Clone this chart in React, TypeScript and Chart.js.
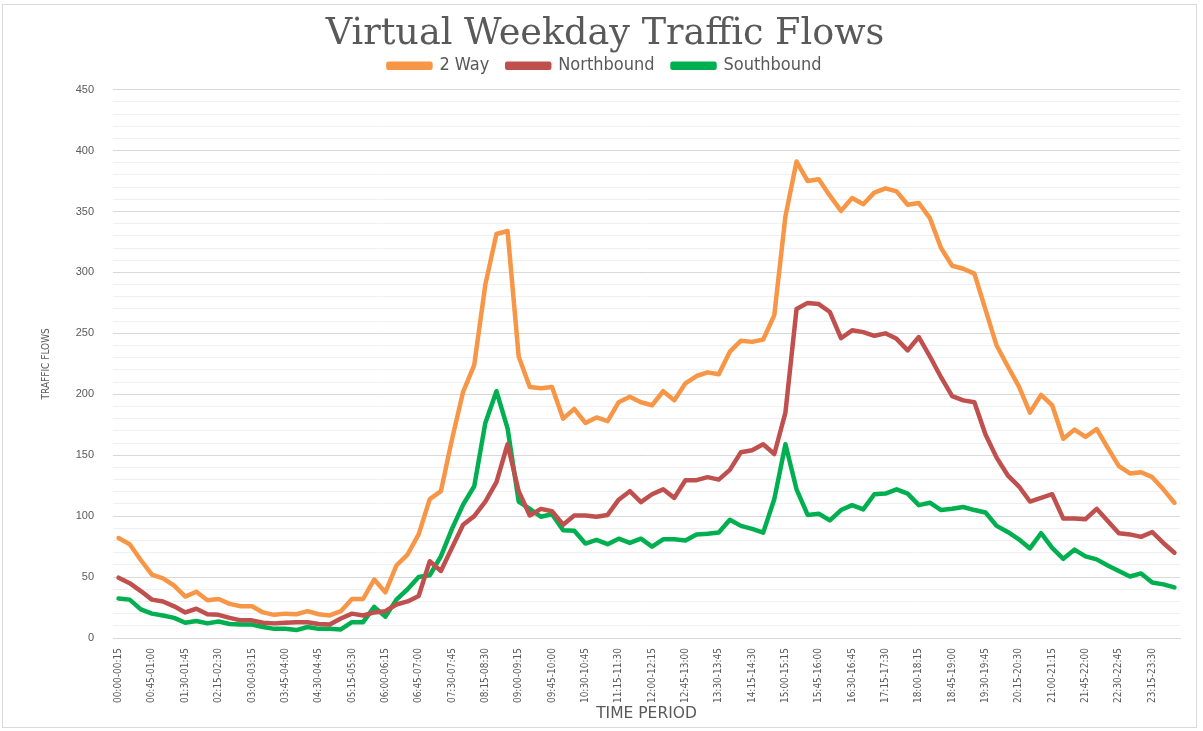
import React, { useEffect, useRef } from "react";
import { Chart, registerables, layouts } from "chart.js";

Chart.register(...registerables);

const timeLabels: string[] = [
  "00:00-00:15", "00:15-00:30", "00:30-00:45", "00:45-01:00",
  "01:00-01:15", "01:15-01:30", "01:30-01:45", "01:45-02:00",
  "02:00-02:15", "02:15-02:30", "02:30-02:45", "02:45-03:00",
  "03:00-03:15", "03:15-03:30", "03:30-03:45", "03:45-04:00",
  "04:00-04:15", "04:15-04:30", "04:30-04:45", "04:45-05:00",
  "05:00-05:15", "05:15-05:30", "05:30-05:45", "05:45-06:00",
  "06:00-06:15", "06:15-06:30", "06:30-06:45", "06:45-07:00",
  "07:00-07:15", "07:15-07:30", "07:30-07:45", "07:45-08:00",
  "08:00-08:15", "08:15-08:30", "08:30-08:45", "08:45-09:00",
  "09:00-09:15", "09:15-09:30", "09:30-09:45", "09:45-10:00",
  "10:00-10:15", "10:15-10:30", "10:30-10:45", "10:45-11:00",
  "11:00-11:15", "11:15-11:30", "11:30-11:45", "11:45-12:00",
  "12:00-12:15", "12:15-12:30", "12:30-12:45", "12:45-13:00",
  "13:00-13:15", "13:15-13:30", "13:30-13:45", "13:45-14:00",
  "14:00-14:15", "14:15-14:30", "14:30-14:45", "14:45-15:00",
  "15:00-15:15", "15:15-15:30", "15:30-15:45", "15:45-16:00",
  "16:00-16:15", "16:15-16:30", "16:30-16:45", "16:45-17:00",
  "17:00-17:15", "17:15-17:30", "17:30-17:45", "17:45-18:00",
  "18:00-18:15", "18:15-18:30", "18:30-18:45", "18:45-19:00",
  "19:00-19:15", "19:15-19:30", "19:30-19:45", "19:45-20:00",
  "20:00-20:15", "20:15-20:30", "20:30-20:45", "20:45-21:00",
  "21:00-21:15", "21:15-21:30", "21:30-21:45", "21:45-22:00",
  "22:00-22:15", "22:15-22:30", "22:30-22:45", "22:45-23:00",
  "23:00-23:15", "23:15-23:30", "23:30-23:45", "23:45-24:00",
];

const twoWay: number[] = [
  82, 77, 64, 52, 49, 43, 34, 38, 31, 32, 28, 26,
  26, 21, 19, 20, 19.5, 22, 19.5, 18.5, 22, 32, 32, 48,
  37.5, 59.5, 68.5, 85, 114, 120.5, 163, 202, 224, 290, 331.5, 334,
  231, 206, 205, 206, 180, 188, 176.5, 181, 178, 193.5, 198, 193.5,
  191, 202.5, 195, 209, 215, 218, 216.5, 235, 244, 243, 245, 265,
  346, 391, 375, 376.5, 363, 350.5, 361, 356, 365.5, 369, 366.5, 355.5,
  357, 344.5, 320, 305.5, 303, 299, 269.5, 240, 223, 206.5, 185, 199.5,
  191, 163.5, 171, 165, 171.5, 156, 141, 135, 136, 132, 122, 111,
];

const northbound: number[] = [
  49.5, 45, 38.5, 31.5, 30, 26, 21, 24, 19.5, 19, 16.5, 14.5,
  14.5, 12.5, 12, 12.5, 13, 13, 11.5, 11, 16, 20, 18.5, 21,
  22, 27.5, 30, 34.5, 63, 55, 74, 93, 100, 112, 128, 159,
  120.5, 100.5, 106, 104, 93, 100.5, 100.5, 99.5, 101, 113.5, 120.5, 111.5,
  118, 122, 115, 129.5, 129.5, 132, 130, 138, 152.5, 154, 159, 151,
  185, 270, 275, 274, 267.5, 246, 252.5, 251, 248, 250, 245.5, 236,
  247, 231, 214, 198.5, 195, 193.5, 167, 148, 133.5, 124.5, 112, 115,
  118, 98, 98, 97.5, 106, 96, 86, 85, 83, 87, 78, 70,
];

const southbound: number[] = [
  32.5, 31.5, 23.5, 20, 18.5, 16.5, 12.5, 14, 12, 13.5, 11.5, 11,
  11, 9, 7.5, 7.5, 6.5, 9, 7.5, 7.5, 7, 13, 13, 25.5,
  17.5, 31.5, 40, 50, 51.5, 67, 89.5, 109.5, 124.5, 176.5, 202.5, 172,
  112, 106, 99.5, 101.5, 88.5, 88, 77.5, 80.5, 77, 81.5, 78, 81.5,
  75, 81, 81, 80, 85, 85.5, 86.5, 97, 92, 89.5, 86.5, 114,
  159, 122, 101, 102, 96.5, 105, 109, 105.5, 118, 118.5, 122, 118.5,
  109, 111, 105, 106, 107.5, 105, 103, 92, 87, 81, 73.5, 86,
  74, 65, 72.5, 67, 64.5, 59.5, 55, 50.5, 53, 45.5, 44, 41.5,
];

const seriesNames = ["2 Way", "Northbound", "Southbound"];
const seriesColors = ["#F79646", "#C0504D", "#00B050"];

const TEXT = "#595959";
const NARROW = "'DejaVu Sans Condensed', 'Liberation Sans', sans-serif";

// Small empty layout box placed between the legend and the plot area.
const spacerPlugin = {
  id: "legendSpacer",
  beforeInit(chart: any) {
    const box: any = {
      position: "top",
      weight: 500,
      fullSize: true,
      options: {},
      top: 0,
      left: 0,
      bottom: 0,
      right: 0,
      width: 0,
      height: 0,
      update(maxWidth: number) {
        this.width = maxWidth;
        this.height = 5;
      },
      isHorizontal() {
        return true;
      },
      getPadding() {
        return { left: 0, right: 0, top: 0, bottom: 0 };
      },
      draw() {},
    };
    layouts.addBox(chart, box);
  },
};

export default function App() {
  const ref = useRef<HTMLCanvasElement>(null);

  useEffect(() => {
    if (!ref.current) return;
    const seriesData = [twoWay, northbound, southbound];
    const chart = new Chart(ref.current, {
      type: "line",
      data: {
        labels: timeLabels,
        datasets: seriesNames.map((name, i) => ({
          label: name,
          data: seriesData[i],
          borderColor: seriesColors[i],
          backgroundColor: seriesColors[i],
          borderWidth: 4.5,
          pointRadius: 0,
          tension: 0,
          fill: false,
          borderCapStyle: "round" as const,
          borderJoinStyle: "round" as const,
        })),
      },
      plugins: [spacerPlugin],
      options: {
        responsive: false,
        animation: false,
        devicePixelRatio: 1,
        layout: { padding: { left: 30, right: 23, top: 0, bottom: 0 } },
        plugins: {
          title: {
            display: true,
            text: "Virtual Weekday Traffic Flows",
            color: TEXT,
            font: { family: "'DejaVu Serif'", size: 36.6, weight: "normal", lineHeight: 0.4 },
            padding: { top: 27, bottom: -3 },
          },
          legend: {
            display: true,
            position: "top",
            labels: {
              color: TEXT,
              boxWidth: 42,
              boxHeight: 4,
              padding: 18,
              font: { family: NARROW, size: 18 },
            },
          },
          tooltip: { enabled: false },
        },
        scales: {
          x: {
            type: "category",
            offset: true,
            grid: { display: false, drawTicks: false },
            border: { display: true, color: "#D9D9D9" },
            ticks: {
              autoSkip: false,
              maxRotation: 90,
              minRotation: 90,
              padding: 10,
              color: TEXT,
              font: { family: NARROW, size: 10 },
              callback: (_v: any, idx: number) => (idx % 3 === 0 ? timeLabels[idx] : ""),
            },
            title: {
              display: true,
              text: "TIME PERIOD",
              color: TEXT,
              font: { family: "'DejaVu Sans'", size: 15.5 },
              padding: { top: 0, bottom: 8 },
            },
            afterFit: (s: any) => {
              s.height = 93;
            },
          },
          y: {
            min: 0,
            max: 450,
            grid: {
              drawTicks: false,
              color: (c: any) => (c.tick && c.tick.value % 50 === 0 ? "#D9D9D9" : "#F0F0F0"),
              lineWidth: 1,
            },
            border: { display: false },
            ticks: {
              stepSize: 10,
              autoSkip: false,
              padding: 19,
              color: TEXT,
              font: { family: "'Liberation Sans'", size: 11 },
              callback: (v: any) => (Number(v) % 50 === 0 ? String(v) : ""),
            },
            title: {
              display: true,
              text: "TRAFFIC FLOWS",
              color: TEXT,
              font: { family: NARROW, size: 10 },
              padding: { top: 10, bottom: 0 },
            },
            afterFit: (s: any) => {
              s.width = 83;
            },
          },
        },
      },
    });
    return () => chart.destroy();
  }, []);

  return (
    <div style={{ position: "fixed", left: 0, top: 0, width: 1203, height: 731, background: "#ffffff" }}>
      <canvas
        ref={ref}
        width={1203}
        height={731}
        style={{ position: "absolute", left: 0, top: 0, width: 1203, height: 731 }}
      />
      <div
        style={{
          position: "absolute",
          left: 2,
          top: 4,
          width: 1195,
          height: 724,
          border: "1px solid #D9D9D9",
          boxSizing: "border-box",
          pointerEvents: "none",
        }}
      />
    </div>
  );
}
